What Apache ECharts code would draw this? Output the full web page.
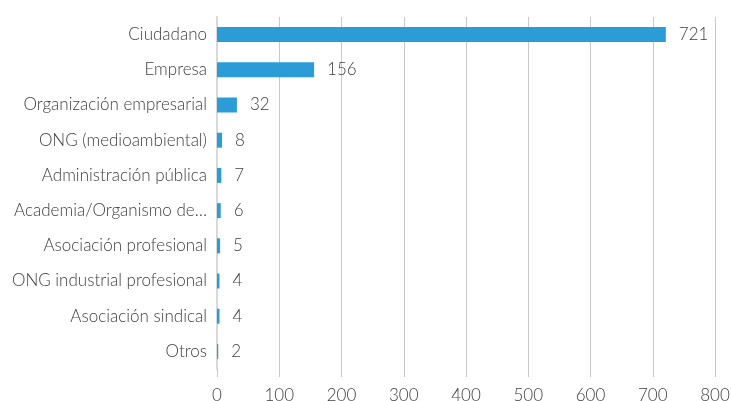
<!DOCTYPE html>
<html>
<head>
<meta charset="utf-8">
<script src="https://cdn.jsdelivr.net/npm/echarts@6/dist/echarts.min.js"></script>
<style>
html,body{margin:0;padding:0;background:#fff;}
#c{width:731px;height:401px;}
</style>
</head>
<body>
<div id="c"></div>
<script>
const categories = ["Ciudadano","Empresa","Organización empresarial","ONG (medioambiental)","Administración pública","Academia/Organismo de…","Asociación profesional","ONG industrial profesional","Asociación sindical","Otros"];
const values = [721,156,32,8,7,6,5,4,4,2];
const xMin = 0, xMax = 800, xStep = 100;

const FONT = "Lato";
const chart = echarts.init(document.getElementById('c'), null, {renderer:'canvas'});
chart.setOption({
  animation:false,
  grid:{left:217,right:16,top:17,bottom:32,containLabel:false,outerBoundsMode:'none'},
  xAxis:{
    type:'value',min:xMin,max:xMax,interval:xStep,
    axisLine:{show:false},
    axisTick:{show:true,length:8,lineStyle:{color:'#c9c9c9',width:1}},
    splitLine:{show:true,lineStyle:{color:'#c9c9c9',width:1}},
    axisLabel:{color:'#404040',fontFamily:FONT,fontWeight:300,fontSize:17,margin:18}
  },
  yAxis:{
    type:'category',data:categories,inverse:true,
    axisLine:{show:true,lineStyle:{color:'#d9d9d9',width:2}},
    axisTick:{show:false},
    axisLabel:{color:'#404040',fontFamily:FONT,fontWeight:300,fontSize:17,margin:10}
  },
  series:[{
    type:'bar',data:values,barWidth:15,
    itemStyle:{color:'#2C9CD7'},
    label:{show:true,position:'right',distance:13,color:'#404040',fontFamily:FONT,fontWeight:300,fontSize:17}
  }]
});
</script>
</body>
</html>
